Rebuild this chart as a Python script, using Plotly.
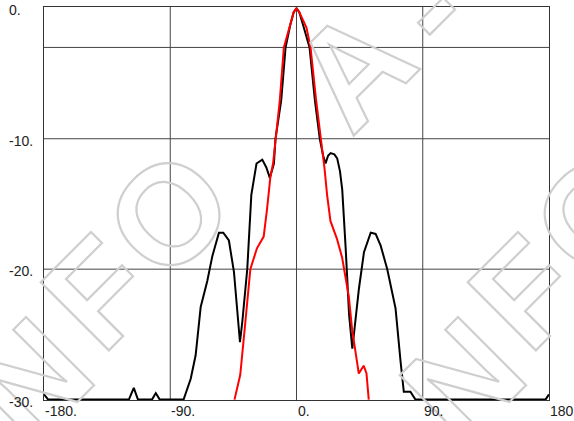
import plotly.graph_objects as go

# ---- data (angle in degrees, gain in dB) ----
black_angle = [-180, -177, -119.5, -116, -113, -103, -100.3, -97.5, -80.5, -75.4, -71.9, -68.3,
               -63.6, -60.0, -55.3, -52.2, -48.2, -44.6, -40.3, -38.6, -35.1, -32.2, -28.5,
               -24.4, -21.5, -19.0, -16.1, -15.0, -10.9, -7.8, -4.5, -2.0, 0, 2.0, 5.0, 9.3,
               13.1, 16.6, 19.0, 20.7, 22.5, 24.3, 27.0, 29.0, 31.0, 32.6, 35.0, 37.5, 39.8,
               41.0, 44.5, 48.1, 52.9, 56.4, 60.0, 64.7, 70.6, 74.2, 76.5, 81.2, 84.8, 177.5, 180]
black_gain = [-29.6, -30, -30, -29.1, -30, -30, -29.5, -30, -30, -28.4, -26.6, -22.9,
              -20.9, -19.0, -17.2, -17.2, -17.8, -20.2, -25.6, -24.0, -20.0, -14.3, -11.9,
              -11.6, -12.2, -13.0, -11.9, -10.0, -7.05, -3.0, -1.3, -0.3, 0, -0.3, -1.4, -3.0,
              -7.05, -10.0, -11.3, -11.9, -11.3, -11.1, -11.2, -11.5, -12.5, -13.9, -18.3, -23.5, -26.1,
              -24.8, -21.5, -18.7, -17.2, -17.3, -18.2, -20.0, -23.0, -27.1, -29.4, -29.4, -30, -30, -29.6]

red_angle = [-44.2, -40.1, -36.5, -32.9, -28.2, -23.4, -21.0, -18.6, -16.7, -15.7, -11.9, -9.0,
             -4.8, -2.0, 0, 2.0, 7.1, 10.0, 14.0, 18.3, 20.0, 21.8, 24.2, 28.9, 32.5, 34.9,
             37.3, 39.6, 42.0, 44.4, 47.9, 49.9, 51.5]
red_gain = [-30, -28.1, -24.1, -20.0, -18.4, -17.5, -15.4, -12.9, -11.9, -10.9, -7.05, -3.0,
            -1.47, -0.3, 0, -0.3, -1.47, -3.0, -7.05, -10.6, -12.3, -14.3, -16.3, -17.7, -19.1, -20.6,
            -22.1, -24.6, -26.5, -28.0, -27.4, -28.0, -30]

x_tick_vals = [-180, -90, 0, 90, 180]
x_tick_text = ["-180.", "-90.", "0.", "90.", "180"]
y_tick_vals = [0, -10, -20, -30]
y_tick_text = ["0.", "-10.", "-20.", "-30."]
x_grid = [-90, 0, 90]
y_grid = [-3, -10, -20]

# watermark letters (char, x px, y px)
wm_chars = ["N", "F", "O", "A", "-", "N", "F", "O"]
wm_px = [30, 98, 168, 352, 428, 462, 525, 595]
wm_py = [380, 292, 214, 68, 8, 380, 292, 214]

W, H = 574, 421
ML, MR, MT, MB = 44, 25, 7, 21
PW, PH = W - ML - MR, H - MT - MB

fig = go.Figure()
fig.add_trace(go.Scatter(x=black_angle, y=black_gain, mode="lines",
                         line=dict(color="#000000", width=2), hoverinfo="skip"))
fig.add_trace(go.Scatter(x=red_angle, y=red_gain, mode="lines",
                         line=dict(color="#ff0000", width=2), hoverinfo="skip"))

ann = []
for ch, px, py in zip(wm_chars, wm_px, wm_py):
    ann.append(dict(
        text=('<span style="font-weight:900;fill:none;stroke:#cfcfcf;'
              'stroke-width:2.2px">%s</span>' % ch),
        x=(px - ML) / PW, y=(H - MB - py) / PH, xref="paper", yref="paper",
        xanchor="center", yanchor="middle", showarrow=False, textangle=-45,
        font=dict(family="Arial Black, Liberation Sans", size=140, weight=900,
                  color="rgba(0,0,0,0)")))
for v, t in zip(x_tick_vals, x_tick_text):
    ann.append(dict(text=t, x=v, y=0, xref="x", yref="paper", xanchor="left",
                    yanchor="top", yshift=-1, xshift=-1, showarrow=False,
                    font=dict(family="Liberation Sans", size=14, color="#222222")))
for v, t in zip(y_tick_vals, y_tick_text):
    ann.append(dict(text=t, x=0, y=v, xref="paper", yref="y", xanchor="left",
                    yanchor="middle", xshift=-37, yshift=-2, showarrow=False,
                    font=dict(family="Liberation Sans", size=14, color="#222222")))

shapes = []
for g in x_grid:
    shapes.append(dict(type="line", xref="x", yref="paper", x0=g, x1=g, y0=0, y1=1,
                       line=dict(color="#444444", width=1), layer="below"))
for g in y_grid:
    shapes.append(dict(type="line", xref="paper", yref="y", x0=0, x1=1, y0=g, y1=g,
                       line=dict(color="#444444", width=1), layer="below"))

fig.update_layout(
    width=W, height=H, margin=dict(l=ML, r=MR, t=MT, b=MB, pad=0),
    paper_bgcolor="white", plot_bgcolor="white", showlegend=False,
    annotations=ann, shapes=shapes,
    xaxis=dict(range=[-180, 180], showgrid=False, zeroline=False, showticklabels=False,
               ticks="", showline=True, mirror=True, linecolor="#333333", linewidth=1),
    yaxis=dict(range=[-30.03, 0.1], showgrid=False, zeroline=False, showticklabels=False,
               ticks="", showline=True, mirror=True, linecolor="#333333", linewidth=1),
)
fig.write_html("out.html", config={"displayModeBar": False},
               post_script="document.body.style.margin='0px';document.body.style.overflow='hidden';")
